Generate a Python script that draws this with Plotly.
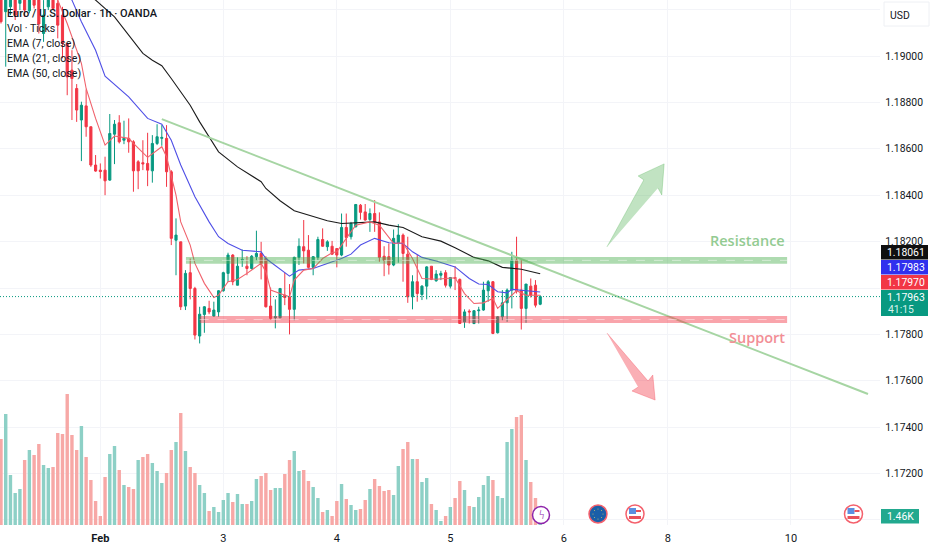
import plotly.graph_objects as go

# hourly bars, index 0 is the first bar visible on the left edge
opens = [1.19284, 1.19191, 1.19212, 1.19241, 1.19227, 1.19241, 1.19195, 1.19255, 1.19241, 1.19097,
         1.19212, 1.19241, 1.19227, 1.19176, 1.19054, 1.18939, 1.18860, 1.18724, 1.18785, 1.18695,
         1.18530, 1.18508, 1.18508, 1.18465, 1.18663, 1.18712, 1.18637, 1.18645, 1.18630, 1.18544,
         1.18540, 1.18537, 1.18505, 1.18623, 1.18645, 1.18645, 1.18501, 1.18206, 1.18199, 1.17922,
         1.18066, 1.17998, 1.17793, 1.17886, 1.17912, 1.17879, 1.17897, 1.17988, 1.18063, 1.18142,
         1.18012, 1.18120, 1.18094, 1.18084, 1.18135, 1.18149, 1.18127, 1.17922, 1.17872, 1.17872,
         1.17969, 1.17962, 1.17908, 1.18132, 1.18178, 1.18163, 1.18089, 1.18132, 1.18209, 1.18178,
         1.18180, 1.18170, 1.18142, 1.18261, 1.18221, 1.18264, 1.18357, 1.18328, 1.18295, 1.18321,
         1.18285, 1.18137, 1.18135, 1.18099, 1.18195, 1.18228, 1.18146, 1.17962, 1.18027, 1.17972,
         1.18008, 1.18094, 1.18031, 1.18055, 1.18066, 1.18008, 1.18045, 1.18037, 1.17854, 1.17900,
         1.17847, 1.17902, 1.17905, 1.17988, 1.18027, 1.17807, 1.17876, 1.17936, 1.17991, 1.18120,
         1.17991, 1.17912, 1.18008, 1.18012, 1.17930]
highs = [1.19327, 1.19313, 1.19284, 1.19263, 1.19248, 1.19270, 1.19263, 1.19270, 1.19255, 1.19241,
         1.19263, 1.19270, 1.19241, 1.19212, 1.19054, 1.19025, 1.18879, 1.18803, 1.18856, 1.18695,
         1.18573, 1.18537, 1.18566, 1.18750, 1.18724, 1.18745, 1.18721, 1.18731, 1.18637, 1.18551,
         1.18637, 1.18669, 1.18659, 1.18706, 1.18702, 1.18702, 1.18508, 1.18300, 1.18199, 1.18077,
         1.18127, 1.18005, 1.17919, 1.17922, 1.17945, 1.17941, 1.17991, 1.18070, 1.18152, 1.18146,
         1.18132, 1.18166, 1.18137, 1.18142, 1.18247, 1.18199, 1.18137, 1.18002, 1.17951, 1.17998,
         1.18066, 1.18017, 1.18135, 1.18214, 1.18293, 1.18228, 1.18137, 1.18221, 1.18257, 1.18206,
         1.18203, 1.18170, 1.18321, 1.18321, 1.18285, 1.18362, 1.18362, 1.18362, 1.18343, 1.18379,
         1.18326, 1.18180, 1.18192, 1.18252, 1.18275, 1.18235, 1.18221, 1.18055, 1.18142, 1.18012,
         1.18094, 1.18094, 1.18077, 1.18074, 1.18077, 1.18045, 1.18094, 1.18041, 1.17908, 1.17908,
         1.17905, 1.17919, 1.18027, 1.18034, 1.18030, 1.17879, 1.17991, 1.17998, 1.18156, 1.18221,
         1.18120, 1.18017, 1.18041, 1.18034, 1.17969]
lows = [1.19140, 1.18954, 1.19176, 1.19155, 1.19198, 1.19169, 1.19184, 1.19205, 1.19097, 1.19061,
        1.19198, 1.19198, 1.19076, 1.18990, 1.18831, 1.18724, 1.18716, 1.18547, 1.18652, 1.18522,
        1.18501, 1.18472, 1.18400, 1.18462, 1.18534, 1.18623, 1.18620, 1.18583, 1.18415, 1.18426,
        1.18508, 1.18439, 1.18454, 1.18616, 1.18613, 1.18436, 1.18185, 1.18055, 1.17905, 1.17905,
        1.17951, 1.17778, 1.17761, 1.17807, 1.17887, 1.17876, 1.17876, 1.17984, 1.18026, 1.18012,
        1.18011, 1.18091, 1.18055, 1.18080, 1.18120, 1.18037, 1.17916, 1.17864, 1.17826, 1.17869,
        1.17926, 1.17800, 1.17861, 1.18099, 1.18106, 1.18084, 1.18055, 1.18120, 1.18178, 1.18160,
        1.18142, 1.18089, 1.18137, 1.18178, 1.18209, 1.18261, 1.18295, 1.18290, 1.18242, 1.18242,
        1.18113, 1.18051, 1.18058, 1.18094, 1.18109, 1.18027, 1.17936, 1.17908, 1.17941, 1.17948,
        1.17951, 1.18034, 1.18027, 1.18034, 1.18002, 1.17998, 1.17991, 1.17847, 1.17828, 1.17847,
        1.17844, 1.17847, 1.17902, 1.17941, 1.17801, 1.17804, 1.17861, 1.17854, 1.17912, 1.17976,
        1.17821, 1.17850, 1.17959, 1.17916, 1.17926]
closes = [1.19148, 1.19298, 1.19255, 1.19176, 1.19241, 1.19198, 1.19241, 1.19219, 1.19138, 1.19176,
          1.19241, 1.19205, 1.19133, 1.19054, 1.18910, 1.18903, 1.18767, 1.18788, 1.18695, 1.18530,
          1.18504, 1.18502, 1.18462, 1.18666, 1.18706, 1.18630, 1.18645, 1.18630, 1.18505, 1.18505,
          1.18535, 1.18508, 1.18623, 1.18652, 1.18649, 1.18501, 1.18214, 1.18228, 1.17919, 1.18063,
          1.17998, 1.17797, 1.17887, 1.17919, 1.17897, 1.17905, 1.17988, 1.18066, 1.18142, 1.18027,
          1.18094, 1.18123, 1.18084, 1.18137, 1.18149, 1.18106, 1.17919, 1.17869, 1.17876, 1.17998,
          1.17959, 1.17908, 1.18132, 1.18180, 1.18160, 1.18089, 1.18135, 1.18209, 1.18180, 1.18199,
          1.18146, 1.18142, 1.18261, 1.18218, 1.18278, 1.18360, 1.18326, 1.18293, 1.18321, 1.18285,
          1.18132, 1.18120, 1.18099, 1.18214, 1.18228, 1.18149, 1.17962, 1.18027, 1.17976, 1.18008,
          1.18091, 1.18037, 1.18060, 1.18063, 1.18012, 1.18045, 1.18041, 1.17847, 1.17897, 1.17897,
          1.17902, 1.17905, 1.17991, 1.18027, 1.17804, 1.17876, 1.17936, 1.17991, 1.18120, 1.17988,
          1.17912, 1.18017, 1.17969, 1.17926, 1.17963]

# tick volume in thousands, and whether the volume bar is an up bar
volumes = [12.9, 16.65, 7.5, 4.8, 5.4, 9.75, 11.25, 10.5, 12.15, 9.0,
           8.55, 8.7, 13.8, 13.65, 19.65, 13.5, 11.25, 14.85, 10.2, 6.75,
           3.6, 1.35, 7.2, 10.65, 11.85, 8.25, 6.0, 5.7, 5.4, 9.75,
           10.2, 10.65, 9.3, 8.1, 6.3, 7.8, 11.25, 12.45, 16.8, 11.1,
           8.7, 7.8, 6.0, 4.8, 2.1, 2.7, 1.95, 3.75, 4.8, 3.45,
           4.65, 3.15, 3.15, 3.6, 6.9, 7.35, 7.8, 5.25, 5.55, 5.55,
           7.65, 9.75, 11.1, 8.1, 8.25, 6.6, 5.7, 4.05, 1.95, 2.25,
           1.35, 3.6, 6.15, 3.9, 3.0, 2.25, 2.4, 3.75, 5.4, 6.9,
           5.85, 5.1, 5.25, 4.5, 8.85, 11.4, 12.45, 9.9, 9.9, 6.45,
           7.05, 3.15, 2.25, 0.6, 1.35, 2.7, 4.05, 6.6, 5.25, 2.85,
           2.7, 4.2, 6.0, 7.35, 6.75, 4.35, 4.05, 12.45, 14.4, 16.2,
           16.5, 9.75, 6.45, 4.05, 1.46]
vol_up = [0, 1, 1, 1, 1, 0, 1, 0, 0, 1, 1, 0, 0, 0, 0, 0, 0, 1, 0, 0,
          0, 0, 0, 1, 1, 0, 1, 0, 0, 1, 0, 0, 1, 1, 1, 0, 0, 1, 0, 1,
          0, 0, 1, 1, 0, 1, 1, 1, 1, 0, 1, 1, 0, 1, 1, 0, 0, 0, 1, 1,
          0, 0, 1, 1, 0, 0, 1, 1, 0, 1, 0, 0, 1, 0, 1, 1, 0, 0, 1, 0,
          0, 0, 0, 1, 1, 0, 0, 1, 0, 1, 1, 0, 1, 1, 0, 1, 0, 0, 1, 0,
          1, 1, 1, 1, 0, 1, 1, 1, 1, 0, 0, 1, 0, 0, 1]

ema50_bars = [16, 20, 24, 27, 30, 32, 34, 36, 40, 42, 44, 46, 50, 55, 56, 59, 62, 65, 69, 72,
              75, 79, 82, 85, 89, 93, 96, 100, 103, 106, 110, 114]
ema50_vals = [1.19298, 1.19241, 1.19169, 1.19090, 1.19011, 1.18982, 1.18958, 1.18903, 1.18788, 1.18716,
              1.18652, 1.18587, 1.18522, 1.18458, 1.18429, 1.18376, 1.18333, 1.18314, 1.18290, 1.18278,
              1.18281, 1.18285, 1.18271, 1.18261, 1.18221, 1.18202, 1.18173, 1.18132, 1.18117, 1.18089,
              1.18081, 1.18061]
ema21_bars = [12, 15, 17, 20, 22, 27, 31, 34, 36, 38, 41, 44, 46, 48, 51, 55, 56, 59, 61, 63,
              66, 69, 72, 74, 76, 79, 82, 85, 87, 89, 92, 96, 99, 101, 103, 105, 107, 108, 112, 114]
ema21_vals = [1.19313, 1.19241, 1.19148, 1.19025, 1.18913, 1.18824, 1.18731, 1.18706, 1.18637, 1.18530,
              1.18393, 1.18285, 1.18221, 1.18192, 1.18163, 1.18156, 1.18127, 1.18080, 1.18051, 1.18077,
              1.18084, 1.18106, 1.18127, 1.18146, 1.18185, 1.18214, 1.18195, 1.18192, 1.18156, 1.18132,
              1.18116, 1.18091, 1.18041, 1.18017, 1.18015, 1.17984, 1.17979, 1.17994, 1.17988, 1.17983]
ema7_bars = [8, 12, 14, 17, 18, 20, 22, 24, 27, 28, 31, 34, 35, 37, 38, 40, 41, 43, 45, 46,
             48, 50, 52, 55, 56, 57, 59, 61, 62, 64, 66, 68, 70, 71, 73, 75, 78, 80, 83, 85,
             87, 89, 92, 96, 98, 100, 102, 104, 105, 108, 109, 111, 114]
ema7_vals = [1.19327, 1.19241, 1.19140, 1.18968, 1.18860, 1.18731, 1.18616, 1.18655, 1.18645, 1.18623,
             1.18563, 1.18609, 1.18566, 1.18400, 1.18285, 1.18185, 1.18106, 1.18020, 1.17959, 1.17969,
             1.18027, 1.18037, 1.18063, 1.18106, 1.18070, 1.17991, 1.17976, 1.17962, 1.18034, 1.18077,
             1.18084, 1.18127, 1.18152, 1.18156, 1.18214, 1.18271, 1.18285, 1.18271, 1.18192, 1.18195,
             1.18127, 1.18041, 1.18038, 1.18044, 1.17976, 1.17933, 1.17936, 1.17955, 1.17912, 1.17969,
             1.17988, 1.17969, 1.17969]

# drawings on top of the chart
trend_bars = [34.0, 183.3]
trend_vals = [1.18728, 1.17543]
resistance_bars = [39.1, 166.2]
resistance_vals = [1.18104, 1.18134]
support_bars = [42.0, 166.2]
support_vals = [1.17849, 1.17879]
up_arrow_bars = [128.1, 135.9, 134.7, 140.2, 139.7, 138.9]
up_arrow_vals = [1.18177, 1.18466, 1.18483, 1.18535, 1.18401, 1.18431]
down_arrow_bars = [128.1, 136.8, 137.8, 138.3, 133.4, 134.7]
down_arrow_vals = [1.17806, 1.17599, 1.17625, 1.17517, 1.17556, 1.17573]

time_ticks = [21, 47, 71, 95, 119, 141, 167]
time_labels = ["<b>Feb</b>", "3", "4", "5", "6", "8", "10"]
price_ticks = [1.170, 1.172, 1.174, 1.176, 1.178, 1.180, 1.182, 1.184, 1.186, 1.188, 1.190, 1.192]
price_labels = ["1.17000", "1.17200", "1.17400", "1.17600", "1.17800", "",
                "1.18200", "1.18400", "1.18600", "1.18800", "1.19000", ""]
legend_lines = ["Vol · Ticks", "EMA (7, close)", "EMA (21, close)", "EMA (50, close)"]

UP = "#089981"
DOWN = "#f23645"
GRID = "#f3f4f8"
TEXT = "#131722"
FONT = "Roboto"
WIDTH, HEIGHT = 932, 550
PLOT_W, PLOT_H = 932, 525
X_RANGE = [-0.21, 196.83]
Y_RANGE = [1.169784, 1.192414]
bars = list(range(len(closes)))


def px(x):
    return x / PLOT_W


def py(y):
    return 1 - y / PLOT_H


def label(x, y, text, size=10.4, color=TEXT, anchor="center", **font):
    fig.add_annotation(xref="paper", yref="paper", x=px(x), y=py(y), text=text, showarrow=False,
                       xanchor=anchor, yanchor="middle", font=dict(family=FONT, size=size, color=color, **font))


def box(x0, x1, y0, y1, fill, line=None, kind="rect"):
    fig.add_shape(type=kind, xref="paper", yref="paper", x0=px(x0), x1=px(x1), y0=py(y0), y1=py(y1),
                  fillcolor=fill, line=line or dict(width=0))


fig = go.Figure()

fig.add_trace(go.Bar(
    x=bars, y=volumes, yaxis="y2", width=0.72,
    marker=dict(color=["#8dd0c6" if u else "#f7a8a6" for u in vol_up], line_width=0),
))
fig.add_trace(go.Candlestick(
    x=bars, open=opens, high=highs, low=lows, close=closes,
    increasing=dict(line=dict(color=UP, width=1), fillcolor=UP),
    decreasing=dict(line=dict(color=DOWN, width=1), fillcolor=DOWN),
))
fig.add_trace(go.Scatter(x=ema50_bars, y=ema50_vals, mode="lines", line=dict(color="#1b1b1b", width=1.1)))
fig.add_trace(go.Scatter(x=ema21_bars, y=ema21_vals, mode="lines", line=dict(color="#4f4fe6", width=1.1)))
fig.add_trace(go.Scatter(x=ema7_bars, y=ema7_vals, mode="lines", line=dict(color="#f0626c", width=1.1)))

# arrows
fig.add_trace(go.Scatter(x=up_arrow_bars, y=up_arrow_vals, mode="lines", fill="toself",
                         fillcolor="rgba(76,175,80,0.35)", line=dict(color="rgba(76,175,80,0.3)", width=1)))
fig.add_trace(go.Scatter(x=down_arrow_bars, y=down_arrow_vals, mode="lines", fill="toself",
                         fillcolor="rgba(242,54,69,0.4)", line=dict(color="rgba(242,54,69,0.3)", width=1)))

# hide the gridlines behind the price scale
fig.add_shape(type="rect", layer="between", x0=185.85, x1=X_RANGE[1], y0=Y_RANGE[0], y1=Y_RANGE[1],
              fillcolor="white", line_width=0)

# support / resistance bands with their dashed middle lines
for xs, ys, color in [(resistance_bars, resistance_vals, "rgba(76,175,80,0.45)"),
                      (support_bars, support_vals, "rgba(242,54,69,0.45)")]:
    fig.add_shape(type="rect", x0=xs[0], x1=xs[1], y0=ys[0], y1=ys[1], fillcolor=color, line_width=0)
    mid = (ys[0] + ys[1]) / 2
    fig.add_shape(type="line", x0=xs[0], x1=xs[1], y0=mid, y1=mid,
                  line=dict(color="rgba(255,255,255,0.45)", width=1, dash="dash"))

fig.add_trace(go.Scatter(x=trend_bars, y=trend_vals, mode="lines",
                         line=dict(color="#a6d5a3", width=2)))

# last price dotted line
fig.add_shape(type="line", xref="paper", x0=0, x1=px(881), y0=closes[-1], y1=closes[-1],
              line=dict(color=UP, width=1, dash="1px,2px"))

fig.add_annotation(x=166.2, y=1.18205, text="Resistance", showarrow=False, xanchor="right",
                   font=dict(family="Open Sans", size=14.5, color="#93cb92", weight=600))
fig.add_annotation(x=166.2, y=1.17787, text="Support", showarrow=False, xanchor="right",
                   font=dict(family="Open Sans", size=14.5, color="#f28e95", weight=600))

# top left titles
label(5, 14, "Euro / U.S. Dollar · 1h · OANDA", size=11, anchor="left", weight=500)
for i, line in enumerate(legend_lines):
    label(5, 29 + i * 14.8, line, size=10.6, anchor="left")

# currency button
fig.add_shape(type="rect", xref="paper", yref="paper", x0=px(884), x1=px(929), y0=py(2), y1=py(26),
              fillcolor="white", line=dict(color="#eef0f4", width=1))
label(899.5, 15, "USD")

# price tags on the right
tags = [(245, 259.5, "#0f0f0f", "1.18061", 252), (260, 274.5, "#3030ee", "1.17983", 267),
        (275, 289.5, DOWN, "1.17970", 282), (290, 316, UP, "1.17963", 297)]
for top, bottom, color, text, text_y in tags:
    box(881, 928, top, bottom, color)
    label(906, text_y, text, color="white")
label(886, 309, "41:15", color="#d8f2ec", anchor="left")
box(881, 919, 509, 523.5, "#22a98f")
label(900, 516, "1.46K", color="white")

# event badges along the time axis
box(532.5, 549.5, 506.5, 523.5, "white", dict(color="#8e24aa", width=1.5), "circle")
label(541, 515, "ϟ", size=12, color="#8e24aa")
box(589, 607, 505, 523, "#1b5fa8", dict(color="#f4606c", width=1.5), "circle")
for dx, dy in [(0, -5), (3.5, -3.5), (5, 0), (3.5, 3.5), (0, 5), (-3.5, 3.5), (-5, 0), (-3.5, -3.5)]:
    box(597.5 + dx, 598.5 + dx, 513.5 + dy, 514.5 + dy, "#c9c76a", kind="circle")
for cx in [635, 853.5]:
    box(cx - 9, cx + 9, 505, 523, "white", dict(color="#f4606c", width=1.5), "circle")
    box(cx - 6, cx + 1, 508, 514, "#5c8fe0")
    box(cx + 1, cx + 6, 510, 512, "#e8505b")
    box(cx - 6, cx + 6, 516, 519, "#e8505b")

fig.update_layout(
    width=WIDTH, height=HEIGHT,
    margin=dict(l=0, r=WIDTH - PLOT_W, t=0, b=HEIGHT - PLOT_H, pad=0, autoexpand=False),
    paper_bgcolor="white", plot_bgcolor="white",
    showlegend=False, boxgap=0.35,
    xaxis=dict(range=X_RANGE, tickvals=time_ticks, ticktext=time_labels,
               showgrid=True, gridcolor=GRID, gridwidth=1, zeroline=False, showline=False,
               ticks="", ticklabelstandoff=5, rangeslider=dict(visible=False),
               tickfont=dict(family=FONT, size=11, color=TEXT)),
    yaxis=dict(range=Y_RANGE, side="right", tickvals=price_ticks, ticktext=price_labels,
               showgrid=True, gridcolor=GRID, gridwidth=1, zeroline=False, showline=False,
               ticks="", ticklabelposition="inside", ticklabelstandoff=6,
               tickfont=dict(family=FONT, size=10.4, color=TEXT)),
    yaxis2=dict(range=[0, 78.75], overlaying="y", visible=False),
)

fig.write_html("out.html", post_script="document.body.style.margin='0';", config={"displayModeBar": False})
